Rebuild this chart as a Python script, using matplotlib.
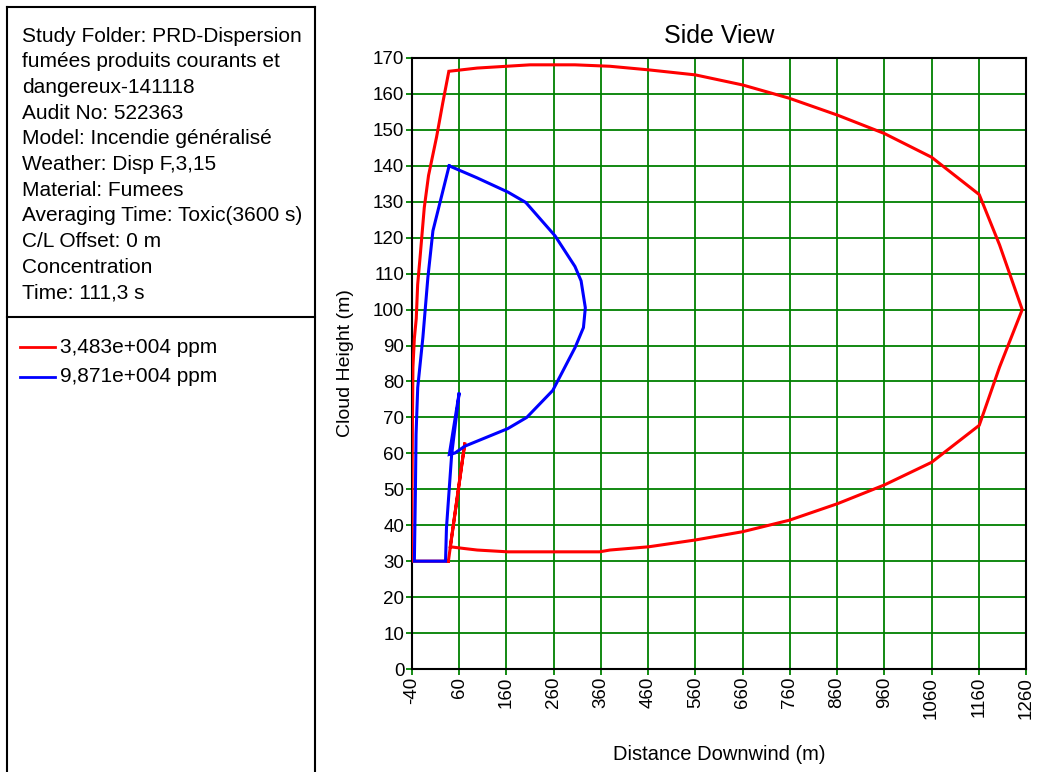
import numpy as np
import matplotlib
matplotlib.use("Agg")
import matplotlib.pyplot as plt
from matplotlib.lines import Line2D

plt.rcParams['font.family'] = ['Liberation Sans', 'DejaVu Sans']

# contour of 3,483e+004 ppm (red)
red_x = [37, 72, 41, 72, 98, 163, 357, 379, 461, 560, 660, 759, 861, 960, 1060, 1161,
         1204, 1252, 1204, 1161, 1060, 960, 861, 759, 660, 560, 461, 379, 305, 210, 98,
         38, 25, 12, -5, -14, -23, -28, -31, -35, -38, -39, -40, -40, 37]
red_y = [30, 63, 34, 33.5, 33.1, 32.6, 32.6, 33.1, 34, 35.9, 38.2, 41.4, 46, 51.2, 57.5, 67.8,
         84, 100, 118, 132, 142.4, 149, 154.1, 158.8, 162.5, 165.3, 166.7, 167.7, 168.1, 168.1, 167.2,
         166.3, 157.4, 148, 137.3, 128.4, 114.4, 107, 97.5, 92, 84, 70, 50, 30, 30]

# contour of 9,871e+004 ppm (blue)
blue_x = [38.6, 4.3, -6.4, -17, -27.9, -31.4, -32.9, -35, 31, 33, 40, 44, 60, 39, 51, 72,
          163, 203, 258, 305.5, 323, 327, 318, 305, 263, 201, 163, 97, 38.6]
blue_y = [140, 121.9, 108.9, 92.2, 78.3, 65.3, 48.5, 30, 30, 39.3, 52.3, 59.7, 76.9, 59.7, 60.1, 62,
          66.9, 70, 77.5, 89.5, 95, 100.5, 108, 112, 120.5, 129.8, 132.7, 136.7, 140]

series_labels = ['3,483e+004 ppm', '9,871e+004 ppm']
series_colors = ['#ff0000', '#0000ff']

x_ticks = list(range(-40, 1261, 100))
y_ticks = list(range(0, 171, 10))

info_lines = ['Study Folder: PRD-Dispersion',
              'fumées produits courants et',
              'dangereux-141118',
              'Audit No: 522363',
              'Model: Incendie généralisé',
              'Weather: Disp F,3,15',
              'Material: Fumees',
              'Averaging Time: Toxic(3600 s)',
              'C/L Offset: 0 m',
              'Concentration',
              'Time: 111,3 s']

W, H = 1043, 772
fig = plt.figure(figsize=(W / 100, H / 100), dpi=100)


def fx(px):
    return px / W


def fy(py):
    return 1 - py / H


# left info / legend panel
for (x0, y0, x1, y1) in [(7, 7, 315, 7), (7, 7, 7, H), (315, 7, 315, H), (7, 317, 315, 317)]:
    fig.add_artist(Line2D([fx(x0), fx(x1)], [fy(y0), fy(y1)], color='black', lw=1.5))

for i, s in enumerate(info_lines):
    fig.text(fx(22), fy(36 + i * 25.7), s, fontsize=15, va='center', ha='left')

for i, (lab, col) in enumerate(zip(series_labels, series_colors)):
    yy = 347 + i * 30
    fig.add_artist(Line2D([fx(20), fx(55)], [fy(yy), fy(yy)], color=col, lw=2))
    fig.text(fx(60), fy(yy), lab, fontsize=15, va='center', ha='left')

# plot area
ax = fig.add_axes([fx(412), fy(669), fx(1026) - fx(412), fy(58) - fy(669)])
ax.plot(red_x, red_y, color=series_colors[0], lw=2.2, solid_joinstyle='miter', zorder=3)
ax.plot(blue_x, blue_y, color=series_colors[1], lw=2.2, solid_joinstyle='miter', zorder=4)

ax.set_xlim(-40, 1260)
ax.set_ylim(0, 170)
ax.set_xticks(x_ticks)
ax.set_yticks(y_ticks)
ax.set_xticklabels([str(v) for v in x_ticks], rotation=90, fontsize=13.5)
ax.set_yticklabels([str(v) for v in y_ticks], fontsize=13.5)
ax.grid(True, color='#008000', lw=1.3)
ax.set_axisbelow(True)
ax.tick_params(axis='both', color='#008000', length=4, width=1.3, pad=1.5)
for sp in ax.spines.values():
    sp.set_color('black')
    sp.set_linewidth(1.5)

ax.set_title('Side View', fontsize=18, pad=11)
ax.set_xlabel('Distance Downwind (m)', fontsize=14.5, labelpad=19)
ax.set_ylabel('Cloud Height (m)', fontsize=14, labelpad=14)

fig.savefig('out.png', dpi=100)
